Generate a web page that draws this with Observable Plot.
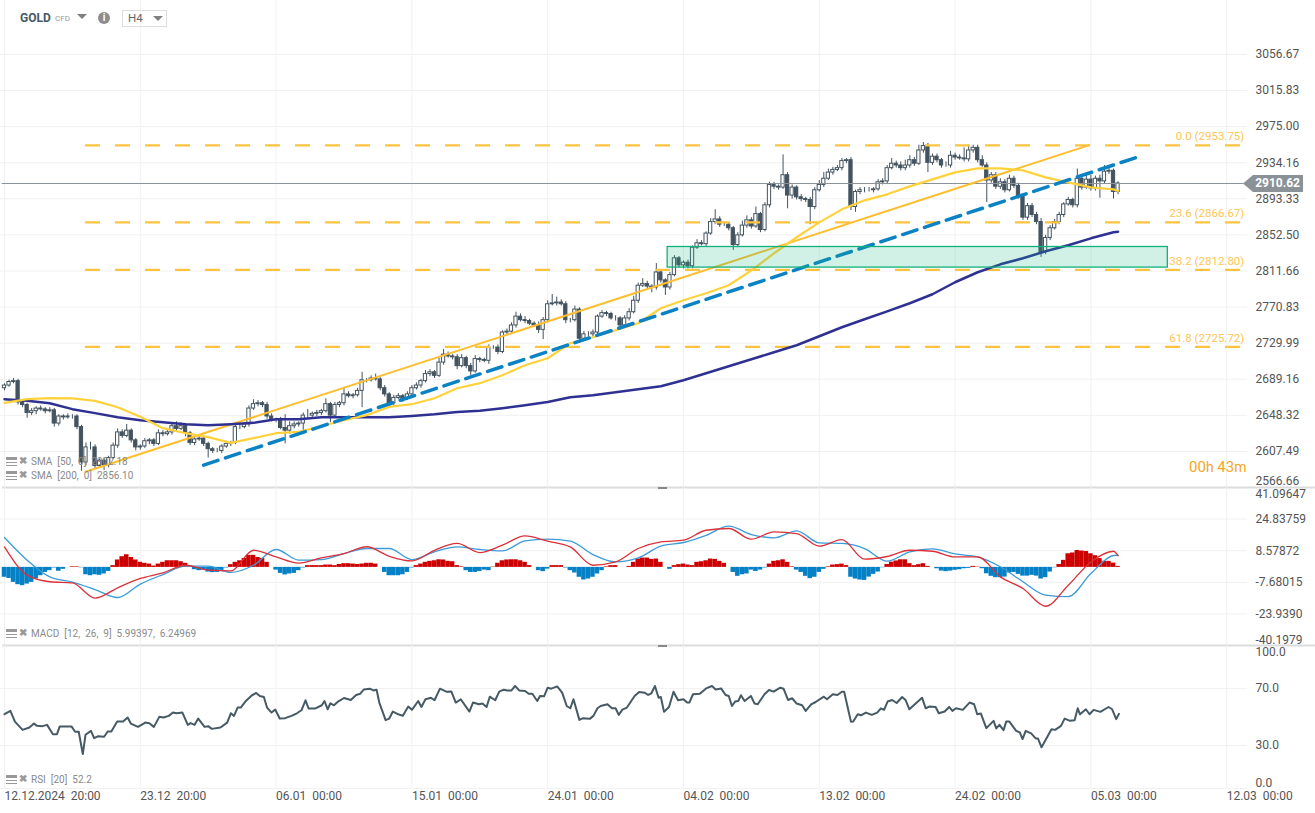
<!DOCTYPE html>
<html>
<head>
<meta charset="utf-8">
<script src="https://cdn.jsdelivr.net/npm/d3@7"></script>
<script src="https://cdn.jsdelivr.net/npm/@observablehq/plot@0.6"></script>
<style>
html,body{margin:0;padding:0;background:#fff;width:1315px;height:813px;overflow:hidden;font-family:Roboto,sans-serif;}
#stage{position:relative;width:1315px;height:813px;}
#stage svg{position:absolute;left:0;overflow:visible;background:transparent;max-width:none;}
.t{position:absolute;white-space:pre;}
.legend{color:#8a8a8a;font-size:10px;line-height:12px;}
.icon{position:absolute;width:11px;height:9px;border-top:3px solid #999;border-bottom:1px solid #999;box-sizing:border-box;}
.icon:after{content:"";position:absolute;left:0;right:0;top:2px;height:1px;background:#999;}
.x{position:absolute;color:#999;font-size:10px;font-weight:700;line-height:10px;}
</style>
</head>
<body>
<div id="stage"></div>
<script>
// Candle closes, one per H4 bar
const closes = [
2682,2686,2687,2663,2660,2651,2653,2656,2655,2653,
2654,2639,2647,2646,2647,2647,2635,2595,2612,2612,
2591,2597,2592,2600,2614,2629,2625,2631,2620,2612,
2613,2619,2620,2616,2628,2627,2629,2636,2633,2636,
2628,2617,2621,2622,2616,2610,2608,2608,2613,2616,
2617,2635,2635,2638,2656,2661,2662,2660,2647,2643,
2643,2634,2631,2636,2638,2639,2648,2648,2650,2651,
2653,2661,2648,2660,2662,2672,2670,2671,2676,2688,
2688,2690,2689,2679,2672,2662,2668,2670,2667,2672,
2679,2682,2687,2695,2697,2693,2708,2717,2715,2714,
2704,2713,2704,2698,2712,2711,2710,2725,2725,2720,
2742,2743,2750,2760,2756,2755,2752,2750,2745,2756,
2774,2775,2776,2774,2756,2756,2768,2735,2740,2740,
2742,2760,2764,2763,2758,2758,2750,2758,2765,2778,
2795,2797,2794,2793,2810,2801,2793,2807,2826,2818,
2821,2817,2838,2843,2842,2854,2867,2870,2864,2864,
2860,2841,2852,2863,2869,2862,2876,2858,2886,2909,
2907,2906,2920,2897,2906,2895,2893,2892,2884,2903,
2909,2916,2923,2926,2928,2936,2937,2884,2901,2903,
2903,2903,2904,2912,2913,2928,2933,2931,2928,2931,
2937,2933,2948,2953,2934,2941,2937,2931,2931,2942,
2940,2939,2938,2948,2951,2937,2931,2914,2920,2907,
2912,2903,2916,2908,2896,2872,2885,2875,2867,2833,
2849,2860,2867,2875,2887,2892,2886,2916,2906,2915,
2905,2916,2913,2924,2925,2901,2910.62];
const firstOpen = 2679;
const wickUp = [
2,2,3,2,3,2,3,2,3,2, 3,2,2,2,3,2,2,2,5,6, 3,2,3,2,3,4,3,7,2,2, 2,3,2,2,4,3,3,2,5,4,
3,2,2,3,2,2,2,3,2,3, 2,3,5,2,3,5,3,2,3,3, 2,3,15,5,3,2,3,7,2,3, 2,6,2,3,2,8,3,2,3,9,
2,3,5,2,3,2,3,3,2,3, 3,3,2,4,3,2,5,6,3,2, 3,4,2,3,4,2,2,3,2,3, 2,3,3,5,3,4,2,2,4,3,
4,10,6,3,3,2,4,2,3,3, 3,2,3,2,2,3,2,3,4,5, 3,6,3,2,10,3,2,3,3,2, 2,3,2,4,3,2,4,11,3,3,
2,2,3,5,5,3,8,2,3,3, 3,2,23,3,3,2,3,2,3,3, 5,7,4,3,3,3,2,3,2,3, 3,3,2,3,3,3,6,3,4,6,
5,3,6,4,3,3,3,2,4,5, 3,3,12,5,3,3,5,3,3,3, 4,3,4,3,3,2,3,3,3,4, 3,3,3,3,2,3,2,11,4,6,
5,3,4,7,3,2,2];
const wickDn = [
3,2,2,3,3,6,3,4,2,3, 2,4,3,3,2,3,3,10,4,3, 3,2,6,3,2,3,3,2,3,4, 3,2,4,3,2,3,2,3,3,2,
4,3,3,2,3,10,3,2,3,2, 3,2,3,2,3,2,3,3,3,2, 3,2,15,4,3,3,9,3,2,3, 3,2,8,2,3,3,2,3,2,19,
3,2,2,3,3,5,3,2,4,2, 3,2,3,2,3,3,2,3,2,3, 4,2,3,5,2,3,2,4,2,3, 2,3,2,3,2,3,2,2,4,11,
3,2,3,2,4,3,2,5,3,3, 3,3,2,3,2,3,3,2,3,2, 3,2,3,6,3,3,9,3,2,3, 4,3,3,2,2,3,2,3,3,2,
3,6,3,2,3,3,2,3,2,3, 3,3,2,15,4,3,3,3,20,3, 2,3,2,3,2,3,3,4,6,3, 3,2,3,2,3,3,2,3,3,3,
3,3,2,3,11,3,3,3,2,3, 3,2,3,3,3,3,2,25,3,3, 3,3,2,3,3,3,3,3,3,6, 3,3,2,3,3,2,3,3,3,2,
3,3,19,3,3,8,3];

// Moving averages, read every fifth bar plus the last
const smaBars = [0,5,10,15,20,25,30,35,40,45,50,55,60,65,70,75,80,85,90,95,100,105,110,115,120,125,130,135,140,145,150,155,160,165,170,175,180,185,190,195,200,205,210,215,220,225,230,235,240,245,246];
const sma50 = [2662.4,2666.6,2667.7,2667.4,2664.7,2657.5,2646.6,2633.8,2628.1,2623.6,2617.2,2622.5,2628.1,2629.6,2636,2642.8,2648.5,2657.9,2660.9,2667.7,2679,2684.7,2693.7,2705,2712.9,2729.9,2736.7,2744.6,2752.5,2769.5,2778.5,2786.4,2795.5,2812.4,2831.7,2849.8,2866.7,2881.4,2891.6,2898.4,2907.4,2915.3,2923.2,2927.8,2927.8,2925.5,2917.6,2911.9,2906.3,2904,2902.18];
const sma200 = [2666.6,2664.7,2662,2655.3,2650.8,2646.2,2642.8,2640.6,2638.3,2637.2,2638.3,2639.8,2644,2644,2646.2,2646.2,2646.2,2646.2,2647.7,2649.6,2652.2,2653.4,2656.4,2659.8,2663.5,2668.8,2671.1,2674.5,2677.9,2681.3,2688,2696,2703.9,2711.8,2719.7,2727.6,2737.8,2748,2757,2766,2775.1,2785.3,2798.9,2810.2,2819.2,2826,2833.9,2840.7,2848.6,2855.4,2856.1];

// Fibonacci levels and drawn objects
const fibLevels = [2953.75,2866.67,2812.80,2725.72];
const fibLabels = ["0.0 (2953.75)","23.6 (2866.67)","38.2 (2812.80)","61.8 (2725.72)"];
const fibBarStart = 17.9, fibBarEnd = 273.9;
const zoneBars = [146.5,257], zonePrices = [2815.5,2838.8];
const channelBars = [17.9,239.5], channelPrices = [2584.4,2953.75];
const trendBars = [44,250.3], trendPrices = [2592,2940.5];
const lastPrice = 2910.62;

// MACD histogram, one per bar
const macdHist = [
-5.1,-5.7,-7.7,-8.9,-9.4,-8.6,-7.7,-6,-4.3,-2.6,
-1.7,-.3,-2,-1,0,.3,.3,-.2,-3.8,-4.3,
-3.8,-4.1,-3.4,-2.1,.9,3.8,5.5,6.5,5.1,3.8,
2.6,2.1,1.7,.7,1.7,2.6,3.4,3.4,3.4,2.9,
2.1,.3,-1.2,-1.7,-1.4,-2.4,-2.7,-2.6,-1.7,-.3,
1.4,2.6,3.4,4.6,6.2,6.2,5.1,4.6,2.6,0,
-1.4,-3.1,-3.9,-3.4,-3.1,-1.7,-.3,.9,.9,.9,
.9,1.2,1.2,.9,1.5,1.9,1.9,1.7,1.5,1.7,
2.1,2.1,1.7,0,-2.6,-4.3,-4.3,-4.3,-3.8,-2.6,
-.3,.9,1.7,2.6,3.1,3.4,3.9,3.8,3.1,2.9,
.9,.3,-1.7,-2.6,-2.6,-2.1,-1.4,-1.7,.2,2.1,
3.4,3.8,3.9,3.9,3.4,2.6,.9,0,-1.7,-2.2,
-.9,.9,.9,.9,-.3,-1.7,-2.9,-5.1,-6.5,-6,
-5.1,-3.4,-1.7,.3,.9,.9,0,0,.5,2.6,
4.3,4.8,4.8,4.1,4.3,2.6,0,-1,.9,1.4,
1.7,1.2,.9,2.6,2.9,3.4,4.3,4.1,3.1,2.1,
0,-2.6,-4.6,-3.8,-3.4,-1.4,-2.1,-1.4,-.3,1.7,
3.1,3.4,3.9,2.6,.3,-1.4,-2.6,-4.6,-5.8,-5.1,
-2.6,-1,.3,1.2,1.4,1.7,.9,-5.1,-6,-6.5,
-6.7,-5,-3.6,-2.4,-.2,1.5,2.7,3.3,3.9,3.9,
1.9,.9,1.4,1.9,.5,0,-.7,-1.9,-2.2,-1.9,
-1.5,-1.2,-.7,-.5,.5,.2,-.7,-3.3,-4.6,-5.3,
-5.3,-5,-2.9,-2.6,-3.6,-4.5,-4.5,-4.1,-4.5,-6,
-5.3,-2.4,-.2,1.5,3.6,7,7.4,8.7,8.4,8.2,
7,6,4.5,3.1,3.1,2.2,.5];
const macdBars = [0,5,10,15,20,25,30,35,40,45,50,55,60,65,70,75,80,85,90,95,100,105,110,115,120,125,130,135,140,145,150,155,160,165,170,175,180,185,190,195,200,205,210,215,220,225,230,235,240,245,246];
const macdLine = [10.55,-4,-7.4,-8,-15.8,-10.5,-5.7,-2.8,1.1,-1.4,-1.8,8.8,5.4,2.2,4.9,7.1,10.6,5.7,3.3,8.8,12.3,7.6,11.4,16.2,13.5,10.55,1.1,2.8,9.7,13.1,14,19.1,20,14.5,18.3,17.4,10.9,14.3,4.2,5.6,8.8,8.3,5.4,5.4,-4.9,-10.9,-20,-9.2,2.8,8.3,5.99397];
const signalLine = [15.35,3.7,-4.9,-7.6,-11.4,-15.5,-8.6,-3.7,.6,.6,-2.6,1.1,9.2,3.7,4,7.1,9.7,9.7,4,8,10.55,9.2,8.5,13.6,14.5,13.5,6.6,2.8,4.9,10.9,12.8,16.5,21.2,16.9,15.2,18.8,12.6,12.3,9.7,3.2,8,9.5,6.9,5.4,.3,-7.4,-14.3,-15.1,-3.2,6.1,6.24969];

// RSI vertices
const rsiBars = [0,1.3,2.3,4,5.5,6.5,7.2,8.4,9.4,10.7,11.6,12.2,14.8,15.6,16.4,17.3,17.9,19.1,19.8,20.7,22,22.8,23.6,24.9,26.2,27.2,27.9,29.5,31.1,32,33,34.2,35.1,36.3,37.2,38,39.3,40.5,41.1,42,42.8,44.2,45,45.8,47.7,49.2,50,50.7,51.5,52.2,53.2,54.5,55.6,56.4,57.3,58,59,59.8,60.8,62,63.4,64.6,65.6,66.5,67.2,68.6,70.1,70.7,71.4,72,72.8,73.7,75,76.5,77.7,78.6,79.4,80.7,81.5,82.2,82.8,84.2,85,85.8,87,88,89.2,90,91.4,92.1,93,94.2,95,96.2,97.6,98.7,99.7,100.8,102.7,103.5,104.8,105.6,106.5,107.2,108.4,109.3,110.3,111.1,112,112.8,113.7,115,115.8,116.6,117.7,118.3,119.2,120,120.8,122.1,123.2,124.2,125,125.7,127,127.8,129.3,130.1,131,131.7,133.2,134.2,135,135.7,136.5,137.5,139.2,140.2,141.4,142.2,142.9,143.7,144.5,145,145.7,146.8,147.8,148.8,150,150.8,151.3,152.1,153.6,155,156.3,157.1,158.3,159.3,160,160.7,161.4,162.1,162.7,163.5,164.9,165.7,166.4,167.9,168.9,169.9,171.4,172.1,173.1,174,175,176.2,177,178.2,179.2,181,181.7,183,184,185,185.5,187,187.5,188.5,189.2,190.3,191.6,192.8,193.6,194.3,195.1,196.1,197.1,198.3,199.1,199.9,202.7,203.5,204.3,205.7,206.4,207.7,208.7,209.4,210.2,211.7,213.2,214.2,214.9,215.7,216.9,218.5,219.1,219.8,220.7,221.3,222,223.5,224.3,224.9,225.6,226.8,227.8,228.3,229.1,231.3,232.1,233.4,234.2,235.4,236.4,237.1,237.6,238.9,239.7,240.6,242.1,243.9,244.7,245.6,246.2];
const rsiValues = [52,54.3,46.8,41,42.7,45.4,43.8,43.6,44.5,38,38,43.4,43.4,39.7,39.7,24.1,37.6,40.3,35.2,36.6,36.2,39.9,39.9,46.8,46.8,49.6,45.4,43.1,46.1,45.7,43.1,50.1,49.6,50.8,53.1,52.6,53.1,44.5,45.7,44.5,48.9,43.1,43.6,41.7,42.7,46.1,52.6,50.8,56.6,56.6,60.8,64.7,66.8,64.7,64,56.6,53.1,55.2,48.9,49.2,50.8,52.6,54.7,61.7,55.9,55.9,58.2,61.2,55.4,59.6,58.2,60.8,63.3,61.9,65.4,66.3,69.3,69.8,68.6,69.1,60.1,47.8,48.9,53.8,51.9,50.8,57.3,55,61.2,57,62.4,63.5,61.7,69.8,67.7,67.9,60.1,62.4,53.8,60.1,58.9,59.4,57,64.2,61.7,67.7,69.1,68.6,68.6,71.7,68.6,68.2,66.3,66.3,61.2,64.7,64.5,70.5,69.8,71.4,67,57.7,56.1,62.4,48,49.2,48.7,50.8,56.1,57.7,58.9,56.1,56.1,51.5,55.2,56.6,64.7,67.5,67,65.4,66.6,71.7,63.5,64,53.6,57,67.7,61.7,62.4,60.1,60.1,65.9,66.3,70,71.7,69.3,70,65.4,64.7,57.7,60.8,61.2,65.2,61.2,64.7,59.4,58.9,65.9,68.9,67.7,70.5,69.8,61.9,63.1,59.4,58.2,54.3,58.9,60.5,64.2,62.4,65.9,65.4,67.7,67.7,46.6,46.8,51.9,51.2,53.1,51.5,53.1,56.1,55,60.8,61.9,59.8,64,61.7,55.4,63.5,56.1,57.3,57,52.6,53.8,57,54.3,56.1,55,60.1,58.9,51.9,52.4,42.2,47.3,42,44.5,40.8,46.8,46.8,40.3,39.2,34.6,40.3,38.5,35,35,28.8,41.5,41,43.8,48.9,47.3,47.8,56.1,51.9,55.4,51.9,55,53.6,57,55.4,48.5,52.2];

// Axis labels
const priceTicks = ["3056.67","3015.83","2975.00","2934.16","2893.33","2852.50","2811.66","2770.83","2729.99","2689.16","2648.32","2607.49"];
const priceEdge = "2566.66";
const macdTicks = ["24.83759","8.57872","-7.68015","-23.9390"];
const macdTop = "41.09647", macdBottom = "-40.1979";
const rsiTicks = ["70.0","30.0"];
const rsiTop = "100.0", rsiBottom = "0.0";
const timeBars = [0,30,60,90,120,150,180,210,240,270];
const timeLabels = ["12.12.2024\u00a0\u00a020:00","23.12\u00a0\u00a020:00","06.01\u00a0\u00a000:00","15.01\u00a0\u00a000:00","24.01\u00a0\u00a000:00","04.02\u00a0\u00a000:00","13.02\u00a0\u00a000:00","24.02\u00a0\u00a000:00","05.03\u00a0\u00a000:00","12.03\u00a0\u00a000:00"];

const dark = "#43535f", gridCol = "#f1f1f1", axisCol = "#555", sepCol = "#dcdcdc";
const xMax = 274.6, xEdge = 289.6;
const xScale = {domain:[0,xMax], range:[4,1247], axis:null};
const pick = (xs,ys) => xs.map((x,i)=>({x, y:ys[i]}));

const candles = closes.map((c,i)=>{
  const o = i===0 ? firstOpen : closes[i-1];
  return {i, o, c, h:Math.max(o,c)+wickUp[i], l:Math.min(o,c)-wickDn[i]};
});
const up = candles.filter(d=>d.c>=d.o), down = candles.filter(d=>d.c<d.o);
const bw = 0.36;
const bodyOpts = {x1:d=>d.i-bw, x2:d=>d.i+bw, y1:"o", y2:"c", stroke:dark, strokeWidth:1};
const edgeLabel = (val,label,dy) => Plot.text([val],{x:()=>xMax,y:d=>d,text:()=>label,dx:8,dy,textAnchor:"start",fill:axisCol,fontSize:12});
const axisOpts = (labels) => {
  const m = new Map(labels.map(s=>[+s,s]));
  return {anchor:"right",tickSize:0,tickPadding:8,textAnchor:"start",fill:axisCol,fontSize:12,tickFormat:d=>m.get(+d),label:null,stroke:null};
};
const base = {width:1315,marginLeft:0,marginRight:68,marginTop:0,style:{background:"transparent",fontFamily:"Roboto",overflow:"visible"}};

const main = Plot.plot({...base,height:487,marginBottom:0,
  x:xScale,
  y:{domain:[2566.66,3117.7],range:[487,0],axis:null},
  marks:[
    Plot.gridX(timeBars,{stroke:gridCol,strokeOpacity:1}),
    Plot.gridY(priceTicks.map(Number),{stroke:gridCol,strokeOpacity:1}),
    Plot.ruleX(candles,{x:"i",y1:"l",y2:"h",stroke:dark,strokeWidth:1}),
    Plot.rect(up,{...bodyOpts,fill:"#fff"}),
    Plot.rect(down,{...bodyOpts,fill:dark}),
    Plot.ruleY([lastPrice],{x1:-0.5,x2:273.8,stroke:"#8b9398",strokeWidth:1}),
    Plot.ruleY(fibLevels,{x1:fibBarStart,x2:fibBarEnd,stroke:"#fcc33f",strokeWidth:2.2,strokeDasharray:"15,15"}),
    Plot.line(pick(channelBars,channelPrices),{x:"x",y:"y",stroke:"#fdbe2f",strokeWidth:2}),
    Plot.line(pick(smaBars,sma200),{x:"x",y:"y",stroke:"#2e3192",strokeWidth:2.5}),
    Plot.line(pick(smaBars,sma50),{x:"x",y:"y",stroke:"#ffd23c",strokeWidth:2.2}),
    Plot.line(pick(trendBars,trendPrices),{x:"x",y:"y",stroke:"#0b82c4",strokeWidth:3.5,strokeDasharray:"15,8"}),
    Plot.rect([0],{x1:()=>zoneBars[0],x2:()=>zoneBars[1],y1:()=>zonePrices[0],y2:()=>zonePrices[1],fill:"#1ab883",fillOpacity:0.2,stroke:"#12b07c",strokeWidth:1.3}),
    Plot.text(fibLevels,{x:()=>fibBarEnd,y:d=>d,text:(d,i)=>fibLabels[i],dy:-9,textAnchor:"end",fill:"#fcc656",fontSize:11.5}),
    Plot.axisY(priceTicks.map(Number),axisOpts(priceTicks)),
    edgeLabel(2566.66,priceEdge,-6),
    Plot.ruleY([2566.66],{x1:-0.4,x2:xEdge,stroke:sepCol,strokeWidth:2})
  ]
});

const macd = Plot.plot({...base,height:158,marginBottom:0,
  x:xScale,
  y:{domain:[-40.1979,41.09647],range:[158,0],axis:null},
  marks:[
    Plot.gridX(timeBars,{stroke:gridCol,strokeOpacity:1}),
    Plot.gridY(macdTicks.map(Number),{stroke:gridCol,strokeOpacity:1}),
    Plot.rect(macdHist.map((v,i)=>({i,v})).filter(d=>d.v>0),{x1:d=>d.i-0.5,x2:d=>d.i+0.5,y1:()=>0,y2:"v",fill:"#cc0000"}),
    Plot.rect(macdHist.map((v,i)=>({i,v})).filter(d=>d.v<0),{x1:d=>d.i-0.5,x2:d=>d.i+0.5,y1:()=>0,y2:"v",fill:"#0480c6"}),
    Plot.line(pick(macdBars,signalLine),{x:"x",y:"y",stroke:"#3c9bd8",strokeWidth:1.3,curve:"monotone-x"}),
    Plot.line(pick(macdBars,macdLine),{x:"x",y:"y",stroke:"#dc3038",strokeWidth:1.3,curve:"monotone-x"}),
    Plot.axisY(macdTicks.map(Number),axisOpts(macdTicks)),
    edgeLabel(41.09647,macdTop,7),
    edgeLabel(-40.1979,macdBottom,-5),
    Plot.ruleY([-40.1979],{x1:-0.4,x2:xEdge,stroke:sepCol,strokeWidth:2})
  ]
});

const rsi = Plot.plot({...base,height:168,marginBottom:25,
  x:xScale,
  y:{domain:[0,100],axis:null},
  marks:[
    Plot.gridX(timeBars,{stroke:gridCol,strokeOpacity:1}),
    Plot.gridY([0,30,70],{stroke:gridCol,strokeOpacity:1}),
    Plot.line(pick(rsiBars,rsiValues),{x:"x",y:"y",stroke:"#455a64",strokeWidth:2}),
    Plot.axisY(rsiTicks.map(Number),axisOpts(rsiTicks)),
    edgeLabel(100,rsiTop,7),
    edgeLabel(0,rsiBottom,-5),
    Plot.axisX(timeBars,{anchor:"bottom",tickSize:0,tickPadding:3,textAnchor:"start",fill:axisCol,fontSize:12,label:null,tickFormat:d=>timeLabels[timeBars.indexOf(d)]})
  ]
});

const stage = document.getElementById("stage");
[[main,0],[macd,487],[rsi,645]].forEach(([s,top])=>{s.style.top=top+"px";stage.appendChild(s);});

function div(html,css,cls){
  const e=document.createElement("div");
  if(cls) e.className=cls;
  e.innerHTML=html; e.style.cssText=css; stage.appendChild(e); return e;
}
// Header
div("GOLD","left:20px;top:10px;font-size:12px;font-weight:700;color:#455a64;line-height:16px;","t");
div("CFD","left:55px;top:14px;font-size:8px;color:#9a9a9a;line-height:10px;","t");
div("","left:77px;top:14px;width:0;height:0;border-left:5px solid transparent;border-right:5px solid transparent;border-top:5px solid #808080;","t");
div("i","left:98px;top:12px;width:12px;height:12px;border-radius:6px;background:#8d8d8d;color:#fff;font-size:10px;font-weight:700;line-height:12px;text-align:center;","t");
div("H4","left:122px;top:10px;width:43px;height:15px;border:1px solid #ddd;box-sizing:content-box;font-size:11.5px;color:#666;line-height:15px;text-indent:5px;","t");
div("","left:153px;top:16px;width:0;height:0;border-left:5px solid transparent;border-right:5px solid transparent;border-top:5px solid #808080;","t");
// Price tag
div("2910.62","left:1243px;top:175px;width:60px;height:17px;background:#8a9298;color:#fff;font-size:12px;font-weight:700;line-height:17px;text-align:right;padding-right:3px;box-sizing:border-box;clip-path:polygon(0 50%,10px 0,100% 0,100% 100%,10px 100%);","t");
// Countdown
div('00<span style="font-size:14px">h</span> 43<span style="font-size:14px">m</span>',"left:1189px;top:459px;font-size:15px;color:#f5a623;line-height:16px;","t");
// Legends
function legend(text,y){
  const ic=document.createElement("div");ic.className="icon";ic.style.left="6px";ic.style.top=(y-5)+"px";stage.appendChild(ic);
  div("\u2716","left:19px;top:"+(y-6)+"px;","x");
  div(text,"left:31px;top:"+(y-6)+"px;","t legend");
}
legend("SMA  [50,  0]  2902.18",462);
legend("SMA  [200,  0]  2856.10",476);
legend("MACD  [12,  26,  9]  5.99397,  6.24969",634);
legend("RSI  [20]  52.2",780);
// Pane handles
div("","left:658px;top:487px;width:9px;height:2px;background:#888;");
div("","left:658px;top:645px;width:9px;height:2px;background:#888;");
document.querySelectorAll("#stage > div").forEach(e=>{if(!e.style.position)e.style.position="absolute";});
</script>
</body>
</html>
